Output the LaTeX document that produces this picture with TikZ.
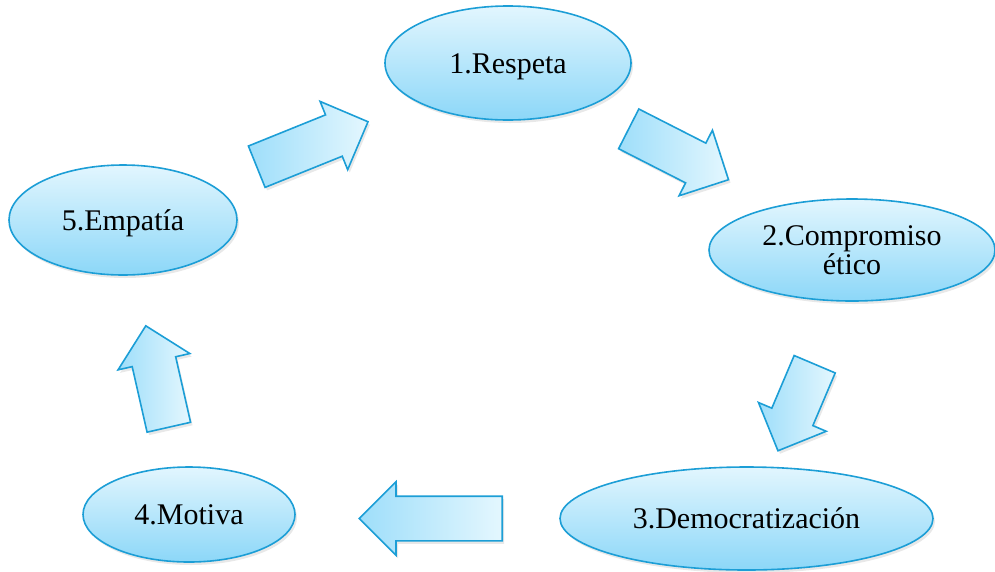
\documentclass[tikz,border=0pt]{standalone}
\usepackage{fontspec}
\setmainfont{Liberation Serif}
\usetikzlibrary{shapes.geometric,shapes.arrows,shadows}
\definecolor{edgeblue}{RGB}{28,158,214}
\definecolor{fillhi}{RGB}{226,246,254}
\definecolor{filllo}{RGB}{140,215,248}
\definecolor{arrhi}{RGB}{228,247,254}
\definecolor{arrlo}{RGB}{158,222,250}
\begin{document}
\begin{tikzpicture}[x=1pt,y=-1pt,
  stage/.style={ellipse, draw=edgeblue, line width=1.6pt,
    top color=fillhi, bottom color=filllo, inner sep=0pt,
    font=\fontsize{30}{29.5}\selectfont,
    drop shadow={opacity=0.18, shadow xshift=2pt, shadow yshift=-3pt}},
  oneline/.style={text height=24pt, text depth=4pt},
  flow/.style={single arrow, draw=edgeblue, line width=1.6pt,
    left color=arrlo, right color=arrhi, anchor=tail,
    inner xsep=0pt, inner ysep=21.5pt, text height=0pt, text depth=0pt,
    single arrow head extend=14.5pt,
    drop shadow={opacity=0.18, shadow xshift=2pt, shadow yshift=-3pt}}]
  \useasboundingbox (0,0) rectangle (995,571);

  % stages of the cycle
  \node[stage, oneline, minimum width=246pt, minimum height=114pt] (s1) at (508,63) {1.Respeta};
  \node[stage, align=center, minimum width=286pt, minimum height=102pt] (s2) at (852,250) {2.Compromiso\\ético};
  \node[stage, oneline, minimum width=373pt, minimum height=103pt] (s3) at (746.5,518.5) {3.Democratización};
  \node[stage, oneline, minimum width=212pt, minimum height=95pt] (s4) at (189,514.5) {4.Motiva};
  \node[stage, oneline, minimum width=228pt, minimum height=110pt] (s5) at (123,220) {5.Empatía};

  % block arrows between stages, placed by the middle of their tails
  \node[flow, minimum height=120pt, rotate=22] (a51) at (256,167) {};
  \node[flow, minimum height=112pt, rotate=-27] (a12) at (628,128.5) {};
  \node[flow, minimum height=94pt, rotate=-113] (a23) at (815,363.5) {};
  \node[flow, minimum height=143pt, rotate=180] (a34) at (503,518.5) {};
  \node[flow, minimum height=104pt, rotate=102.8] (a45) at (169,428) {};
\end{tikzpicture}
\end{document}
